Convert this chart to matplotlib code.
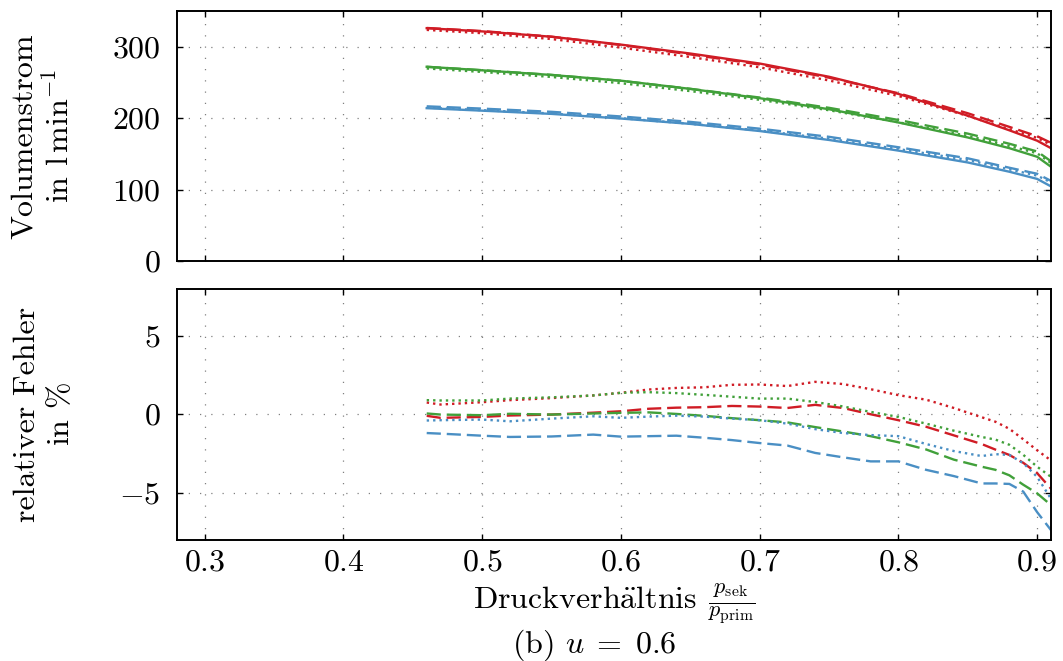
import matplotlib
matplotlib.use('Agg')
import matplotlib.pyplot as plt

# data
ratio_flow = [0.46, 0.50, 0.55, 0.60, 0.65, 0.70, 0.75, 0.80, 0.85, 0.88, 0.90, 0.91]

red_meas = [326.0, 321.5, 314.0, 303.0, 290.5, 276.5, 258.0, 234.0, 203.5, 183.0, 168.5, 158.0]
red_dash = [326.3, 322.0, 314.1, 302.4, 289.3, 275.1, 256.7, 234.9, 206.9, 187.8, 174.8, 165.5]
red_dot = [323.6, 319.0, 310.8, 298.8, 285.6, 271.2, 252.8, 231.1, 203.2, 184.6, 172.4, 162.7]

green_meas = [272.0, 267.0, 260.5, 252.5, 241.0, 228.0, 212.5, 194.0, 173.0, 158.0, 146.0, 132.0]
green_dash = [271.9, 267.2, 260.6, 252.3, 241.1, 228.9, 214.5, 197.5, 178.4, 164.2, 153.4, 139.7]
green_dot = [269.6, 264.7, 257.7, 249.0, 237.9, 225.7, 211.1, 194.3, 175.2, 161.1, 150.9, 137.3]

blue_meas = [214.0, 210.5, 206.0, 199.5, 192.0, 182.0, 169.5, 154.6, 138.0, 125.0, 115.0, 104.5]
blue_dash = [216.6, 213.4, 208.9, 202.4, 194.8, 185.3, 173.9, 159.3, 143.8, 130.6, 122.2, 112.2]
blue_dot = [214.9, 211.2, 206.6, 200.0, 192.2, 182.7, 171.3, 156.8, 141.5, 128.3, 119.6, 110.1]

ratio_err = [0.46, 0.47, 0.50, 0.52, 0.55, 0.58, 0.60, 0.62, 0.64, 0.66, 0.68, 0.70, 0.72,
             0.74, 0.76, 0.78, 0.80, 0.82, 0.84, 0.86, 0.87, 0.88, 0.89, 0.90, 0.91]

red_err_dash = [-0.10, -0.23, -0.17, -0.08, -0.02, 0.10, 0.19, 0.35, 0.42, 0.45, 0.53, 0.49, 0.40,
                0.60, 0.40, 0.00, -0.38, -0.80, -1.35, -1.90, -2.26, -2.60, -3.10, -3.76, -4.75]
red_err_dot = [0.75, 0.62, 0.77, 0.90, 1.03, 1.20, 1.37, 1.58, 1.68, 1.72, 1.88, 1.90, 1.80,
               2.07, 1.93, 1.60, 1.22, 0.93, 0.40, -0.19, -0.48, -0.93, -1.60, -2.30, -2.95]
green_err_dash = [0.05, -0.02, -0.06, 0.03, -0.02, 0.05, 0.09, 0.12, 0.02, -0.10, -0.25, -0.38, -0.52,
                  -0.82, -1.10, -1.40, -1.79, -2.25, -2.90, -3.35, -3.55, -3.90, -4.50, -5.05, -5.80]
green_err_dot = [0.90, 0.88, 0.88, 1.00, 1.08, 1.20, 1.37, 1.41, 1.35, 1.24, 1.12, 1.00, 1.00,
                 0.78, 0.50, 0.15, -0.17, -0.60, -1.05, -1.45, -1.62, -1.95, -2.59, -3.35, -4.00]
blue_err_dash = [-1.20, -1.24, -1.37, -1.45, -1.42, -1.30, -1.43, -1.40, -1.37, -1.50, -1.65, -1.84, -2.00,
                 -2.47, -2.75, -3.01, -3.01, -3.55, -3.95, -4.42, -4.42, -4.45, -4.94, -6.25, -7.40]
blue_err_dot = [-0.40, -0.38, -0.34, -0.45, -0.28, -0.13, -0.23, -0.15, -0.09, -0.15, -0.28, -0.38, -0.60,
                -0.95, -1.20, -1.33, -1.40, -1.90, -2.35, -2.67, -2.55, -2.60, -3.12, -4.00, -5.40]

x_ticks = [0.3, 0.4, 0.5, 0.6, 0.7, 0.8, 0.9]
flow_ticks = [0, 100, 200, 300]
err_ticks = [-5, 0, 5]

RED = '#d01c25'
GREEN = '#41a03a'
BLUE = '#4a8fc4'
DASH = (0, (6, 2.5))
DOT = (0, (1, 1.7))
LW = 1.7

plt.rcParams.update({
    'font.family': 'serif',
    'font.serif': ['cmr10'],
    'mathtext.fontset': 'cm',
    'axes.formatter.use_mathtext': True,
    'font.size': 23,
    'axes.linewidth': 1.4,
})


def style_axes(ax):
    ax.set_xlim(0.28, 0.91)
    ax.set_xticks(x_ticks)
    ax.grid(True, color='#808080', linestyle=(0, (1, 8)), linewidth=0.9)
    ax.tick_params(direction='in', top=True, right=True, length=4, width=1.0)
    ax.tick_params(axis='y', pad=12)
    ax.tick_params(axis='x', pad=7)


fig = plt.figure(figsize=(10.63, 6.61), dpi=100)
ax_top = fig.add_axes([0.1665, 0.6051, 0.8222, 0.3782])
ax_bot = fig.add_axes([0.1665, 0.1838, 0.8222, 0.3790])

# volume flow
for meas, dash, dot, col in [(red_meas, red_dash, red_dot, RED),
                             (green_meas, green_dash, green_dot, GREEN),
                             (blue_meas, blue_dash, blue_dot, BLUE)]:
    ax_top.plot(ratio_flow, meas, color=col, lw=LW)
    ax_top.plot(ratio_flow, dash, color=col, lw=LW, linestyle=DASH)
    ax_top.plot(ratio_flow, dot, color=col, lw=LW, linestyle=DOT)

style_axes(ax_top)
ax_top.set_ylim(0, 350)
ax_top.set_yticks(flow_ticks)
ax_top.tick_params(axis='x', labelbottom=False)
ax_top.set_ylabel('Volumenstrom\nin $\\mathrm{l\\,min^{-1}}$')
ax_top.yaxis.set_label_coords(-0.117, 0.5)

# relative error
for dash, dot, col in [(red_err_dash, red_err_dot, RED),
                       (green_err_dash, green_err_dot, GREEN),
                       (blue_err_dash, blue_err_dot, BLUE)]:
    ax_bot.plot(ratio_err, dash, color=col, lw=LW, linestyle=DASH)
    ax_bot.plot(ratio_err, dot, color=col, lw=LW, linestyle=DOT)

style_axes(ax_bot)
ax_bot.set_ylim(-8, 8)
ax_bot.set_yticks(err_ticks)
ax_bot.set_ylabel('relativer Fehler\nin $\\%$')
ax_bot.yaxis.set_label_coords(-0.117, 0.5)
ax_bot.set_xlabel(r'$\mathrm{Druckverh\ddot{a}ltnis}\;\,\frac{p_\mathrm{sek}}{p_\mathrm{prim}}$',
                  labelpad=4)

fig.text(0.559, 0.024, r'(b) $u\;=\;0.6$', ha='center', va='center')

fig.savefig('out.png', dpi=100)
